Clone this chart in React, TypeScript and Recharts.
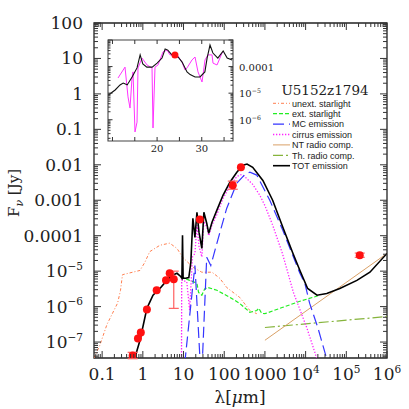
import React from 'react';
import { ComposedChart, Line, Scatter, ErrorBar, XAxis, YAxis, ReferenceArea } from 'recharts';

const SERIF = '"DejaVu Serif", "Liberation Serif", serif';
const SANS = '"Liberation Sans", Arial, sans-serif';

// ---------------- Main panel: x = log10(lambda / um), y = log10(F_nu / Jy)
const X_MIN = -1.2;
const X_MAX = 6;
const Y_MIN = -7.45;
const Y_MAX = 2;

const xMajor = [-1, 0, 1, 2, 3, 4, 5, 6];
const xMajorLabels = ['0.1', '1', '10', '100', '1000', '10^4', '10^5', '10^6'];
const yMajor = [2, 1, 0, -1, -2, -3, -4, -5, -6, -7];
const yMajorLabels = ['100', '10', '1', '0.1', '0.01', '0.001', '0.0001', '10^-5', '10^-6', '10^-7'];

// TOT emission
const totLogLam = [-0.21, -0.07, 0.10, 0.25, 0.42, 0.59, 0.71, 0.84, 0.93, 0.96, 0.975, 0.99, 1.05, 1.13, 1.18, 1.23, 1.28, 1.33, 1.38, 1.45, 1.50, 1.57, 1.62, 1.70, 1.82, 1.97, 2.14, 2.31, 2.46, 2.56, 2.70, 2.95, 3.19, 3.44, 3.69, 3.86, 4.05, 4.28, 4.52, 4.84, 5.26, 5.58, 6.0];
const totLogF = [-7.5, -6.95, -6.05, -5.68, -5.49, -5.26, -5.12, -5.06, -5.15, -5.2, -3.99, -5.2, -5.2, -5.18, -4.75, -3.51, -4.05, -3.34, -3.90, -4.36, -3.34, -3.65, -3.93, -3.62, -3.28, -2.86, -2.49, -2.21, -2.01, -1.98, -2.07, -2.44, -3.0, -3.76, -4.50, -4.98, -5.49, -5.68, -5.63, -5.49, -5.26, -5.03, -4.50];

// MC emission
const mcLogLam = [1.03, 1.28, 1.41, 1.46, 1.57, 1.67, 1.84, 2.06, 2.31, 2.51, 2.63, 2.80, 3.12, 3.44, 3.86, 3.98, 4.10, 4.30, 4.55];
const mcLogF = [-7.6, -4.84, -7.6, -7.6, -4.61, -4.84, -4.13, -3.23, -2.52, -2.27, -2.21, -2.29, -3.0, -3.85, -5.06, -5.34, -5.91, -6.59, -7.6];

// cirrus emission
const cirLogLam = [0.95, 0.955, 1.08, 1.15, 1.22, 1.28, 1.33, 1.38, 1.45, 1.50, 1.57, 1.62, 1.70, 1.82, 1.97, 2.14, 2.31, 2.41, 2.50, 2.70, 2.87, 3.0, 3.19, 3.43, 3.70, 4.03, 4.23, 4.33];
const cirLogF = [-7.8, -5.25, -5.3, -6.1, -4.6, -4.5, -3.7, -4.3, -4.6, -3.6, -3.75, -4.0, -3.7, -3.4, -2.95, -2.6, -2.33, -2.28, -2.33, -2.55, -2.85, -3.15, -3.7, -4.5, -5.6, -6.6, -7.3, -7.7];

// unextinguished starlight
const unextLogLam = [-1.2, -1.06, -0.88, -0.62, -0.55, -0.5, -0.25, -0.07, 0.05, 0.17, 0.42, 0.66, 0.84, 0.98, 1.23, 1.45, 1.70, 1.89, 2.06, 2.38, 2.63, 2.80];
const unextLogF = [-7.45, -7.1, -6.5, -5.9, -5.55, -5.1, -5.03, -4.98, -4.75, -4.45, -4.27, -4.21, -4.36, -4.61, -4.89, -5.03, -5.03, -5.2, -5.46, -5.74, -6.11, -6.2];

// extinguished starlight
const extLogLam = [0.93, 1.03, 1.15, 1.25, 1.33, 1.37, 1.45, 1.52, 1.60, 1.82, 2.14, 2.38, 2.63, 2.80, 2.85, 2.92, 3.0, 3.44, 3.86, 4.35];
const extLogF = [-5.15, -5.2, -5.26, -5.3, -5.35, -5.6, -5.68, -5.5, -5.46, -5.54, -5.74, -5.91, -6.16, -6.11, -6.05, -6.19, -6.2, -6.02, -5.85, -5.68];

// radio components
const ntLogLam = [3.0, 6.0];
const ntLogF = [-6.95, -4.5];
const thLogLam = [3.0, 6.0];
const thLogF = [-6.59, -6.28];

// observed photometry without visible error bars
const obsLogLam = [-0.12, -0.05, 0.10, 0.34, 0.57, 0.66, 1.40, 2.41];
const obsLogF = [-6.90, -6.73, -6.08, -5.54, -5.26, -5.06, -3.54, -2.07];
// observed photometry with error bars
const obsErrLogLam = [-0.25, 0.76, 2.21, 5.33];
const obsErrLogF = [-7.38, -5.23, -2.58, -4.55];
const obsErrLo = [0.09, 0.82, 0.11, 0.06];
const obsErrHi = [0.09, 0.23, 0.12, 0.06];

// ---------------- Inset: x = lambda (um), y = log10(F_nu / Jy)
const insetXTicks = [10, 15, 20, 25, 30, 35];
const insetXLabelled = [20, 30];
const insetYMajor = [-3, -4, -5, -6];
const insetYLabels = ['', '0.0001', '10^-5', '10^-6'];

const insetTotLam = [9.1, 10.6, 11.7, 12.4, 12.9, 13.3, 14.4, 15.5, 16.2, 16.8, 17.7, 18.9, 20.0, 21.1, 21.8, 22.4, 23.3, 24.0, 24.7, 25.6, 26.7, 27.4, 28.5, 29.6, 30.7, 31.2, 31.85, 32.5, 33.6, 34.8, 35.7, 36.8];
const insetTotLogF = [-5.07, -4.88, -4.69, -4.62, -4.66, -4.69, -4.39, -4.05, -3.56, -3.9, -4.02, -4.02, -3.87, -3.68, -3.34, -3.38, -3.56, -3.64, -3.64, -3.83, -4.2, -4.3, -4.39, -4.39, -4.2, -3.68, -3.19, -3.49, -3.68, -3.41, -3.68, -3.75];

const insetSpecLam = [11.24, 12.81, 13.48, 13.93, 14.38, 14.6, 15.05, 15.5, 15.72, 16.62, 17.74, 18.86, 19.08, 19.53, 20.2, 21.32, 22.22, 22.89, 24.46, 25.58, 26.25, 26.7, 27.82, 28.49, 29.16, 30.06, 30.73, 31.4, 32.3, 32.52, 33.42, 34.54, 34.76];
const insetSpecLogF = [-4.43, -4.02, -5.14, -5.56, -4.43, -4.2, -6.46, -6.09, -4.05, -3.68, -3.94, -4.05, -6.31, -4.02, -3.94, -3.45, -3.38, -3.56, -3.56, -3.83, -4.13, -4.05, -3.75, -3.64, -4.2, -4.58, -3.75, -3.56, -3.56, -3.87, -3.94, -3.49, -3.45];

const insetObsLam = [24];
const insetObsLogF = [-3.56];

// ---------------- legend
const legendTitle = 'U5152z1794';
const legendNames = ['unext. starlight', 'ext. starlight', 'MC emission', 'cirrus emission', 'NT radio comp.', 'Th. radio comp.', 'TOT emission'];

// styles (kept apart from the data)
const styles = {
  unext: { stroke: '#ff7f50', dash: '3 2 1 2', w: 1 },
  ext: { stroke: '#22ee22', dash: '4 2', w: 1.2 },
  mc: { stroke: '#3535ff', dash: '11 5', w: 1.2 },
  cir: { stroke: '#ff22ff', dash: '1.3 1.7', w: 1.3 },
  nt: { stroke: '#d9a066', dash: undefined as string | undefined, w: 1 },
  th: { stroke: '#86b43c', dash: '10 3 2 3', w: 1.2 },
  tot: { stroke: '#000000', dash: undefined as string | undefined, w: 1.6 },
};
const legendStyles = [styles.unext, styles.ext, styles.mc, styles.cir, styles.nt, styles.th, styles.tot];

// ---------------- helpers
const zip = (xs: number[], ys: number[]) => xs.map((x, i) => ({ x, y: ys[i] }));

const minorTicks = (from: number, to: number, lo: number, hi: number) => {
  const out: number[] = [];
  for (let n = from; n <= to; n++) {
    for (let k = 2; k <= 9; k++) {
      const v = n + Math.log10(k);
      if (v > lo + 1e-6 && v < hi - 1e-6) out.push(v);
    }
  }
  return out;
};

const xTicks = [...xMajor, ...minorTicks(-2, 5, X_MIN, X_MAX)];
const yTicks = [...yMajor, ...minorTicks(-8, 1, Y_MIN, Y_MAX)];
const INSET_Y_MIN = -6.8;
const INSET_Y_MAX = -3;
const insetYTicks = [...insetYMajor, ...minorTicks(-7, -4, INSET_Y_MIN, INSET_Y_MAX)];

const findIdx = (arr: number[], v: number) => arr.findIndex((m) => Math.abs(m - v) < 1e-9);

function TickText({ label, x, y, anchor, fs }: { label: string; x: number; y: number; anchor: string; fs: number }) {
  const m = /^10\^(-?\d+)$/.exec(label);
  if (m) {
    const exp = m[1].replace('-', '\u2212');
    return (
      <text x={x} y={y} textAnchor={anchor as any} fontSize={fs} fontFamily={SERIF} fill="#222">
        10<tspan dy={-fs * 0.42} fontSize={fs * 0.62}>{exp}</tspan>
      </text>
    );
  }
  return (
    <text x={x} y={y} textAnchor={anchor as any} fontSize={fs} fontFamily={SERIF} fill="#222">
      {label}
    </text>
  );
}

// plot geometry (for mirrored inside ticks)
const MAIN_W = 293;
const MAIN_H = 335;
const INSET_W = 125;
const INSET_H = 101;

const MainXTick = (props: any) => {
  const { x, y, payload } = props;
  const idx = findIdx(xMajor, payload.value);
  const len = idx >= 0 ? 7 : 4;
  return (
    <g>
      <line x1={x} x2={x} y1={y} y2={y - len} stroke="#333" strokeWidth={1} />
      <line x1={x} x2={x} y1={y - MAIN_H} y2={y - MAIN_H + len} stroke="#333" strokeWidth={1} />
      {idx >= 0 && <TickText label={xMajorLabels[idx]} x={x} y={y + 22} anchor="middle" fs={17} />}
    </g>
  );
};

const MainYTick = (props: any) => {
  const { x, y, payload } = props;
  const idx = findIdx(yMajor, payload.value);
  const len = idx >= 0 ? 7 : 4;
  return (
    <g>
      <line x1={x} x2={x + len} y1={y} y2={y} stroke="#333" strokeWidth={1} />
      <line x1={x + MAIN_W} x2={x + MAIN_W - len} y1={y} y2={y} stroke="#333" strokeWidth={1} />
      {idx >= 0 && <TickText label={yMajorLabels[idx]} x={x - 11} y={y + 6} anchor="end" fs={17} />}
    </g>
  );
};

const InsetXTick = (props: any) => {
  const { x, y, payload } = props;
  const labelled = insetXLabelled.includes(payload.value);
  return (
    <g>
      <line x1={x} x2={x} y1={y} y2={y - 4} stroke="#333" strokeWidth={1} />
      <line x1={x} x2={x} y1={y - INSET_H} y2={y - INSET_H + 4} stroke="#333" strokeWidth={1} />
      {labelled && <TickText label={String(payload.value)} x={x} y={y + 11} anchor="middle" fs={10} />}
    </g>
  );
};

const InsetYTick = (props: any) => {
  const { x, y, payload } = props;
  const idx = findIdx(insetYMajor, payload.value);
  const len = idx >= 0 ? 4.5 : 2.5;
  return (
    <g>
      <line x1={x} x2={x - len} y1={y} y2={y} stroke="#333" strokeWidth={1} />
      <line x1={x - INSET_W} x2={x - INSET_W + len} y1={y} y2={y} stroke="#333" strokeWidth={1} />
      {idx >= 0 && insetYLabels[idx] && <TickText label={insetYLabels[idx]} x={x + 6} y={y + 4} anchor="start" fs={10} />}
    </g>
  );
};

const XLabel = () => (
  <text x={240} y={403} textAnchor="middle" fontSize={17} fontFamily={SERIF} fill="#222">
    λ[<tspan fontStyle="italic">μ</tspan>m]
  </text>
);

const YLabel = () => (
  <text transform="translate(19,193) rotate(-90)" textAnchor="middle" fontSize={15} fontFamily={SERIF} fill="#222">
    F<tspan dy={4} fontSize={11} fontStyle="italic">ν</tspan>
    <tspan dy={-4}> [Jy]</tspan>
  </text>
);

const RedDot = (props: any) => <circle cx={props.cx} cy={props.cy} r={4} fill="#ff1010" />;
const SmallRedDot = (props: any) => <circle cx={props.cx} cy={props.cy} r={3.5} fill="#ff1010" />;

const lineProps = (s: { stroke: string; dash?: string; w: number }) => ({
  stroke: s.stroke,
  strokeDasharray: s.dash,
  strokeWidth: s.w,
  dot: false as const,
  activeDot: false as const,
  isAnimationActive: false,
  type: 'linear' as const,
  dataKey: 'y',
});

export default function App() {
  const obsErrData = obsErrLogLam.map((x, i) => ({ x, y: obsErrLogF[i], err: [obsErrLo[i], obsErrHi[i]] }));
  return (
    <div style={{ position: 'fixed', left: 0, top: 0, width: 409, height: 409, background: '#fff', overflow: 'hidden' }}>
      <ComposedChart width={409} height={409} margin={{ top: 23, right: 22, bottom: 21, left: 34 }}>
        <XAxis
          type="number"
          dataKey="x"
          domain={[X_MIN, X_MAX]}
          allowDataOverflow
          ticks={xTicks}
          interval={0}
          tick={MainXTick}
          tickSize={0}
          tickMargin={0}
          tickLine={false}
          axisLine={false}
          height={30}
          label={XLabel}
        />
        <YAxis
          type="number"
          dataKey="y"
          domain={[Y_MIN, Y_MAX]}
          allowDataOverflow
          ticks={yTicks}
          interval={0}
          tick={MainYTick}
          tickSize={0}
          tickMargin={0}
          tickLine={false}
          axisLine={false}
          width={60}
          label={YLabel}
        />
        <ReferenceArea x1={X_MIN} x2={X_MAX} y1={Y_MIN} y2={Y_MAX} fill="none" fillOpacity={0} stroke="#222" strokeWidth={1.3} ifOverflow="visible" />
        <Line data={zip(unextLogLam, unextLogF)} {...lineProps(styles.unext)} />
        <Line data={zip(thLogLam, thLogF)} {...lineProps(styles.th)} />
        <Line data={zip(ntLogLam, ntLogF)} {...lineProps(styles.nt)} />
        <Line data={zip(extLogLam, extLogF)} {...lineProps(styles.ext)} />
        <Line data={zip(cirLogLam, cirLogF)} {...lineProps(styles.cir)} />
        <Line data={zip(mcLogLam, mcLogF)} {...lineProps(styles.mc)} />
        <Line data={zip(totLogLam, totLogF)} {...lineProps(styles.tot)} />
        <Scatter data={obsErrData} dataKey="y" shape={RedDot} isAnimationActive={false}>
          <ErrorBar dataKey="err" direction="y" width={5} stroke="#ff6060" strokeWidth={1.2} />
        </Scatter>
        <Scatter data={zip(obsLogLam, obsLogF)} dataKey="y" shape={RedDot} isAnimationActive={false} />
      </ComposedChart>

      <div style={{ position: 'absolute', left: 100, top: 30 }}>
        <ComposedChart width={185} height={125} margin={{ top: 10, right: 2, bottom: 2, left: 8 }}>
          <XAxis
            type="number"
            dataKey="x"
            domain={[9, 37]}
            allowDataOverflow
            ticks={insetXTicks}
            interval={0}
            tick={InsetXTick}
            tickSize={0}
            tickMargin={0}
            tickLine={false}
            axisLine={false}
            height={12}
          />
          <YAxis
            type="number"
            dataKey="y"
            orientation="right"
            domain={[INSET_Y_MIN, INSET_Y_MAX]}
            allowDataOverflow
            ticks={insetYTicks}
            interval={0}
            tick={InsetYTick}
            tickSize={0}
            tickMargin={0}
            tickLine={false}
            axisLine={false}
            width={50}
          />
          <ReferenceArea x1={9} x2={37} y1={INSET_Y_MIN} y2={INSET_Y_MAX} fill="none" fillOpacity={0} stroke="#444" strokeWidth={1.1} ifOverflow="visible" />
          <Line data={zip(insetSpecLam, insetSpecLogF)} {...lineProps({ stroke: '#ff33ff', w: 1 })} />
          <Line data={zip(insetTotLam, insetTotLogF)} {...lineProps({ stroke: '#111111', w: 1.1 })} />
          <Scatter data={zip(insetObsLam, insetObsLogF)} dataKey="y" shape={SmallRedDot} isAnimationActive={false} />
        </ComposedChart>
      </div>

      <svg width={409} height={409} style={{ position: 'absolute', left: 0, top: 0, pointerEvents: 'none' }}>
        <text x={325} y={95} textAnchor="middle" fontSize={13.5} fontFamily={SERIF} fill="#222">
          {legendTitle}
        </text>
        {legendNames.map((name, i) => {
          const s = legendStyles[i];
          const y = 103.3 + i * 10.4;
          return (
            <g key={name}>
              <line x1={273} x2={290} y1={y} y2={y} stroke={s.stroke} strokeDasharray={s.dash} strokeWidth={s.w} />
              <text x={292} y={y + 3.2} fontSize={9} fontFamily={SANS} fill="#222">
                {name}
              </text>
            </g>
          );
        })}
      </svg>
    </div>
  );
}
